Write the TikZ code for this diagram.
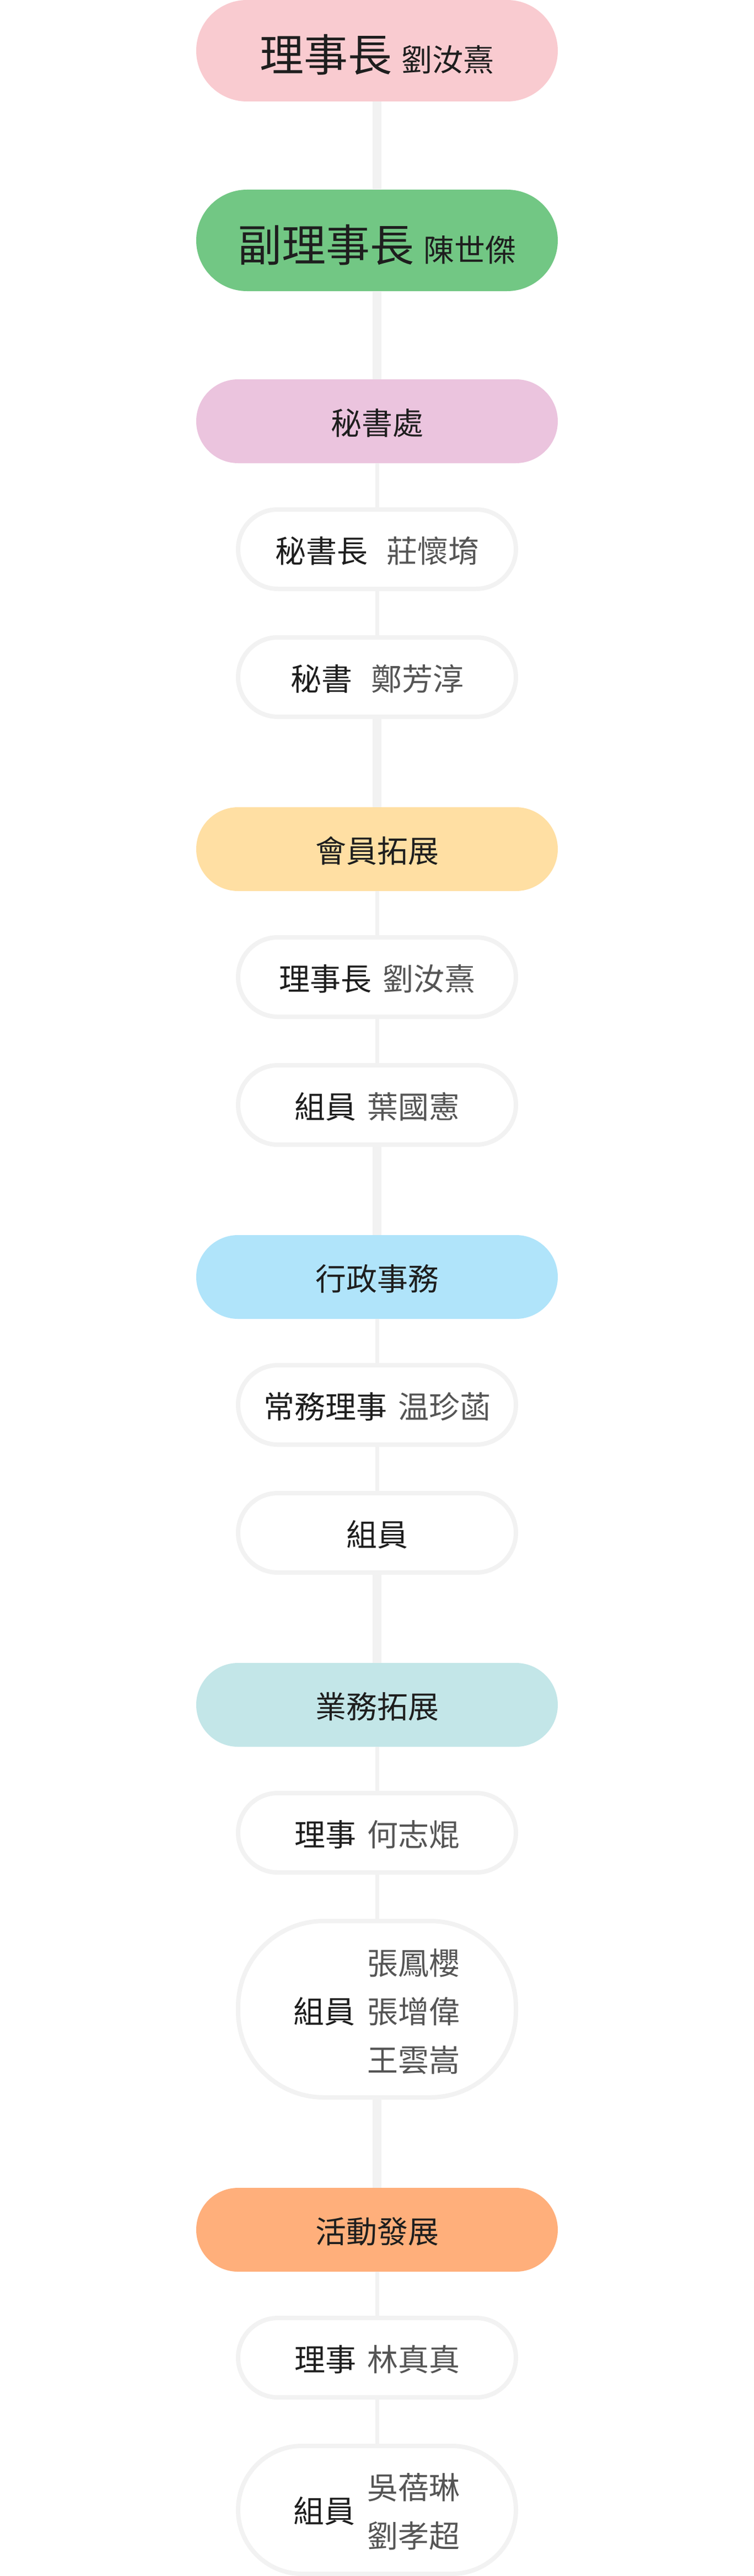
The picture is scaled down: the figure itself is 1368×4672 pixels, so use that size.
\documentclass[tikz,border=0pt]{standalone}
\usepackage{fontspec}
\setmainfont{Noto Sans CJK TC}
\definecolor{labelc}{HTML}{1E1E1E}
\definecolor{namec}{HTML}{555555}
\definecolor{linec}{HTML}{F2F2F2}
\definecolor{bordc}{HTML}{F2F2F2}
\definecolor{cpink}{HTML}{F9CBD0}
\definecolor{cgreen}{HTML}{72C784}
\definecolor{cmauve}{HTML}{EBC4DE}
\definecolor{cyellow}{HTML}{FFDFA3}
\definecolor{cblue}{HTML}{B0E4FA}
\definecolor{cteal}{HTML}{C3E6E8}
\definecolor{corange}{HTML}{FFAF7B}
\begin{document}
\begin{tikzpicture}[x=0.5pt,y=-0.5pt,
  txt/.style={inner sep=0pt, font=\fontsize{28pt}{34pt}\selectfont, text=labelc, text height=24pt, text depth=0pt},
  toppill/.style={txt, minimum width=328pt, minimum height=92pt, rounded corners=46pt, text height=38pt},
  head/.style={txt, minimum width=328pt, minimum height=76pt, rounded corners=38pt},
  member/.style={txt, draw=bordc, line width=4pt, fill=white, minimum width=252pt, minimum height=72pt, rounded corners=36pt},
  thickline/.style={draw=linec, line width=8pt},
  thinline/.style={draw=linec, line width=3.5pt},
  nm/.style={txt, text=namec}
]
\fill[white] (0,0) rectangle (1368,4672);
\useasboundingbox (0,0) rectangle (1368,4672);

% top
\node[toppill, fill=cpink] (top) at (684,92) {{\fontsize{40pt}{48pt}\selectfont 理事長}\hspace{8.5pt}劉汝熹};
\node[toppill, fill=cgreen] (vice) at (684,436) {{\fontsize{40pt}{48pt}\selectfont 副理事長}\hspace{8.5pt}陳世傑};

% group 1
\node[head, fill=cmauve] (g1) at (684,764) {秘書處};
\node[member] (s1a) at (684,996) {秘書長\hspace{17pt}\textcolor{namec}{莊懷堉}};
\node[member] (s1b) at (684,1228) {秘書\hspace{17pt}\textcolor{namec}{鄭芳淳}};

% group 2
\node[head, fill=cyellow] (g2) at (684,1540) {會員拓展};
\node[member] (s2a) at (684,1772) {理事長\hspace{10pt}\textcolor{namec}{劉汝熹}};
\node[member] (s2b) at (684,2004) {組員\hspace{10pt}\textcolor{namec}{葉國憲}};

% group 3
\node[head, fill=cblue] (g3) at (684,2316) {行政事務};
\node[member] (s3a) at (684,2548) {常務理事\hspace{10pt}\textcolor{namec}{温珍菡}};
\node[member] (s3b) at (684,2780) {組員};

% group 4
\node[head, fill=cteal] (g4) at (684,3092) {業務拓展};
\node[member] (s4a) at (684,3324) {理事\hspace{10pt}\textcolor{namec}{何志焜}};
\node[member, minimum height=160pt, rounded corners=78pt] (s4b) at (684,3644) {};
\node[txt, anchor=base east] (s4bl) at (645,3669) {組員};
\node[nm, anchor=base west] (s4bn1) at (666,3581) {張鳳櫻};
\node[nm, anchor=base west] (s4bn2) at (666,3669) {張增偉};
\node[nm, anchor=base west] (s4bn3) at (666,3757) {王雲嵩};

% group 5
\node[head, fill=corange] (g5) at (684,4044) {活動發展};
\node[member] (s5a) at (684,4276) {理事\hspace{10pt}\textcolor{namec}{林真真}};
\node[member, minimum height=116pt, rounded corners=58pt] (s5b) at (684,4552) {};
\node[txt, anchor=base east] (s5bl) at (645,4575) {組員};
\node[nm, anchor=base west] (s5bn1) at (666,4532) {吳蓓琳};
\node[nm, anchor=base west] (s5bn2) at (666,4620) {劉孝超};

% connectors
\draw[thickline] (top.south) -- (vice.north);
\draw[thickline] (vice.south) -- (g1.north);
\draw[thinline] (g1.south) -- (s1a.north);
\draw[thinline] (s1a.south) -- (s1b.north);
\draw[thickline] (s1b.south) -- (g2.north);
\draw[thinline] (g2.south) -- (s2a.north);
\draw[thinline] (s2a.south) -- (s2b.north);
\draw[thickline] (s2b.south) -- (g3.north);
\draw[thinline] (g3.south) -- (s3a.north);
\draw[thinline] (s3a.south) -- (s3b.north);
\draw[thickline] (s3b.south) -- (g4.north);
\draw[thinline] (g4.south) -- (s4a.north);
\draw[thinline] (s4a.south) -- (s4b.north);
\draw[thickline] (s4b.south) -- (g5.north);
\draw[thinline] (g5.south) -- (s5a.north);
\draw[thinline] (s5a.south) -- (s5b.north);
\end{tikzpicture}
\end{document}
